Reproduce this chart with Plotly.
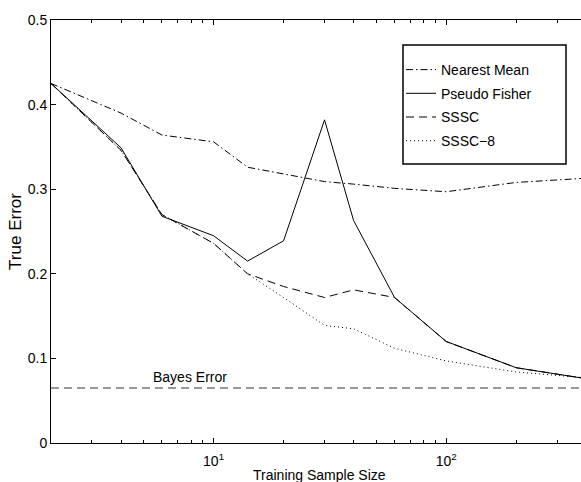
import plotly.graph_objects as go

x = [2, 4, 6, 10, 14, 20, 30, 40, 60, 100, 200, 400]
nearest_mean = [0.425, 0.390, 0.364, 0.356, 0.326, 0.318, 0.309, 0.306, 0.301, 0.297, 0.308, 0.313]
pseudo_fisher = [0.425, 0.349, 0.268, 0.245, 0.215, 0.239, 0.382, 0.263, 0.172, 0.120, 0.089, 0.076]
sssc = [0.425, 0.346, 0.270, 0.236, 0.200, 0.185, 0.172, 0.181, 0.172, 0.120, 0.089, 0.076]
sssc8 = [0.425, 0.346, 0.270, 0.236, 0.200, 0.172, 0.139, 0.135, 0.112, 0.097, 0.084, 0.077]
bayes_error = 0.065
x_range = [2, 380]

FONT = "Liberation Sans, Arial, Helvetica, sans-serif"

fig = go.Figure()
series = [
    ("Nearest Mean", nearest_mean, "7px,3px,1.5px,3px"),
    ("Pseudo Fisher", pseudo_fisher, "solid"),
    ("SSSC", sssc, "8px,5px"),
    ("SSSC\u22128", sssc8, "1px,3px"),
]
for i, (name, vals, dash) in enumerate(series):
    fig.add_trace(go.Scatter(x=x, y=vals, mode="lines", name=name, legendgroup=f"g{i}",
                             line=dict(color="black", width=1, dash=dash)))

fig.add_trace(go.Scatter(x=x_range, y=[bayes_error, bayes_error], mode="lines",
                         showlegend=False, line=dict(color="#333333", width=1, dash="8px,5px")))

fig.add_annotation(x=0.898, y=bayes_error, xref="x", yref="y", text="Bayes Error",
                   showarrow=False, yanchor="bottom", yshift=1,
                   font=dict(family=FONT, size=14, color="black"))

W, H = 581, 482
L, R, T, B = 51, 0, 20, 39
pw, ph = W - L - R, H - T - B

def px2paper(px, py):
    return (px - L) / pw, (H - B - py) / ph

# x-axis title, placed slightly lower than plotly's margin allows for axis titles
tx, ty = px2paper(319, 466)
fig.add_annotation(x=tx, y=ty, xref="paper", yref="paper", text="Training Sample Size",
                   showarrow=False, xanchor="center", yanchor="top", borderpad=0,
                   font=dict(family=FONT, size=14, color="black"))

x0, y0 = px2paper(403, 45)
x1, y1 = px2paper(566, 164)
fig.add_shape(type="rect", xref="paper", yref="paper", x0=x0, y0=y1, x1=x1, y1=y0,
              line=dict(color="black", width=1.5), fillcolor="rgba(0,0,0,0)")

lx, ly = px2paper(401, 54)
fig.update_layout(
    width=W, height=H,
    margin=dict(l=L, r=R, t=T, b=B),
    paper_bgcolor="white", plot_bgcolor="white",
    font=dict(family=FONT, size=14, color="black"),
    showlegend=True,
    legend=dict(x=lx, y=ly, xanchor="left", yanchor="top", bgcolor="rgba(0,0,0,0)",
                borderwidth=0, font=dict(size=14), tracegroupgap=2.5),
    xaxis=dict(type="log", range=[0.30103, 2.5798], showgrid=False, zeroline=False,
               showline=True, linecolor="black", linewidth=1, mirror="ticks",
               ticks="inside", ticklen=5, tickcolor="black", ticklabelstandoff=5,
               automargin=False,
               tickvals=[10, 100], ticktext=["10<sup>1</sup>", "10<sup>2</sup>"],
               minor=dict(tickvals=[3, 4, 5, 6, 7, 8, 9, 20, 30, 40, 50, 60, 70, 80, 90, 200, 300],
                          ticks="inside", ticklen=3, tickcolor="black")),
    yaxis=dict(range=[0, 0.5], showgrid=False, zeroline=False,
               showline=True, linecolor="black", linewidth=1, mirror=False,
               ticks="inside", ticklen=5, tickcolor="black", automargin=False,
               tickvals=[0, 0.1, 0.2, 0.3, 0.4, 0.5],
               ticktext=["0", "0.1", "0.2", "0.3", "0.4", "0.5"],
               title=dict(text="True Error", standoff=1)),
)

fig.write_html("out.html")
